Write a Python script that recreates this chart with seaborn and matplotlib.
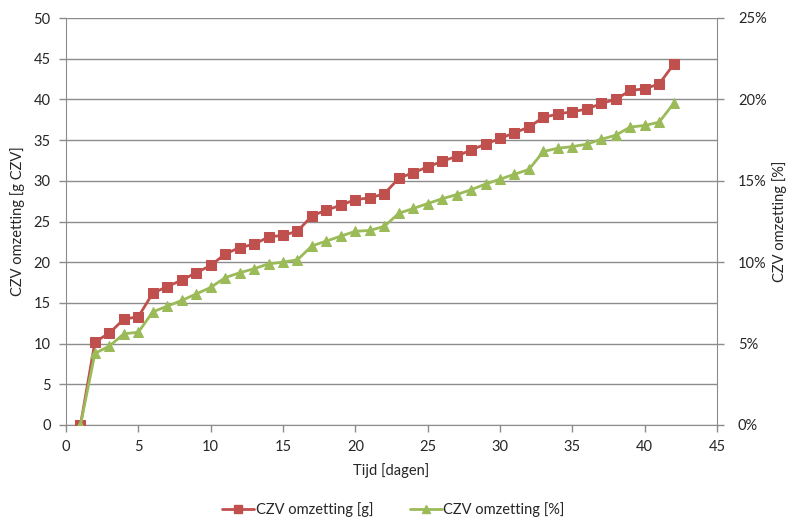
import matplotlib
matplotlib.use("Agg")
import matplotlib.pyplot as plt
import seaborn as sns
import pandas as pd
from matplotlib.ticker import FuncFormatter, MultipleLocator
from matplotlib.lines import Line2D

days = list(range(1, 43))
czv_g = [0, 10.2, 11.3, 13.0, 13.3, 16.2, 17.0, 17.8, 18.7, 19.6,
         21.0, 21.8, 22.2, 23.1, 23.3, 23.8, 25.7, 26.4, 27.0, 27.7,
         27.9, 28.4, 30.3, 31.0, 31.7, 32.4, 33.0, 33.8, 34.5, 35.2,
         35.9, 36.6, 37.8, 38.2, 38.5, 38.8, 39.5, 40.0, 41.1, 41.3,
         41.9, 44.3]
czv_pct = [0, 4.40, 4.85, 5.60, 5.70, 6.95, 7.30, 7.65, 8.05, 8.45,
           9.05, 9.35, 9.60, 9.90, 10.0, 10.15, 11.0, 11.3, 11.6, 11.9,
           11.95, 12.2, 13.0, 13.3, 13.6, 13.9, 14.15, 14.45, 14.8, 15.1,
           15.4, 15.7, 16.8, 17.0, 17.1, 17.25, 17.55, 17.8, 18.3, 18.4,
           18.6, 19.75]

label_g = "CZV omzetting [g]"
label_pct = "CZV omzetting [%]"
red = "#C0504D"
green = "#9BBB59"
grey = "#8c8c8c"

df = pd.DataFrame({"dag": days, "g": czv_g, "pct": czv_pct})

sns.set_style("white")
plt.rcParams["font.family"] = ["Lato", "DejaVu Sans"]
fs = 10.5

fig = plt.figure(figsize=(7.87, 5.2), dpi=100)
ax = fig.add_axes([66/787, 1-425/520, (717-66)/787, (425-18)/520])
ax2 = ax.twinx()

sns.lineplot(data=df, x="dag", y="g", ax=ax, color=red, marker="s",
             markersize=6.5, linewidth=2.0, markeredgecolor=red, zorder=3)
sns.lineplot(data=df, x="dag", y="pct", ax=ax2, color=green, marker="^",
             markersize=7, linewidth=2.0, markeredgecolor=green, zorder=4)

ax.set_xlim(0, 45)
ax.set_ylim(0, 50)
ax2.set_ylim(0, 25)
ax.xaxis.set_major_locator(MultipleLocator(5))
ax.yaxis.set_major_locator(MultipleLocator(5))
ax2.yaxis.set_major_locator(MultipleLocator(5))
ax2.yaxis.set_major_formatter(FuncFormatter(lambda v, p: f"{int(round(v))}%"))

ax.grid(axis="y", color=grey, linewidth=1.0)
ax.set_axisbelow(True)
for a in (ax, ax2):
    for s in a.spines.values():
        s.set_visible(False)
ax.spines["left"].set_visible(True)
ax.spines["left"].set_color(grey)
ax.spines["bottom"].set_visible(True)
ax.spines["bottom"].set_color(grey)
ax2.spines["right"].set_visible(True)
ax2.spines["right"].set_color(grey)

ax.tick_params(axis="both", direction="out", length=5, width=1, color=grey,
               labelsize=fs, pad=6, left=True, bottom=True)
ax2.tick_params(axis="y", direction="out", length=5, width=1, color=grey,
                labelsize=fs, pad=10, right=True)

ax.set_xlabel("Tijd [dagen]", fontsize=fs, labelpad=6)
ax.set_ylabel("CZV omzetting [g CZV]", fontsize=fs, labelpad=6)
ax2.set_ylabel(label_pct, fontsize=fs, labelpad=4, rotation=90)

handles = [Line2D([], [], color=red, marker="s", markersize=6, linewidth=2.0),
           Line2D([], [], color=green, marker="^", markersize=6, linewidth=2.0)]
fig.legend(handles, [label_g, label_pct], loc="center", bbox_to_anchor=(0.5, 0.02),
           ncol=2, frameon=False, fontsize=fs, handlelength=2.2, handletextpad=0.1,
           columnspacing=2.5)

fig.savefig("out.png", dpi=100)
